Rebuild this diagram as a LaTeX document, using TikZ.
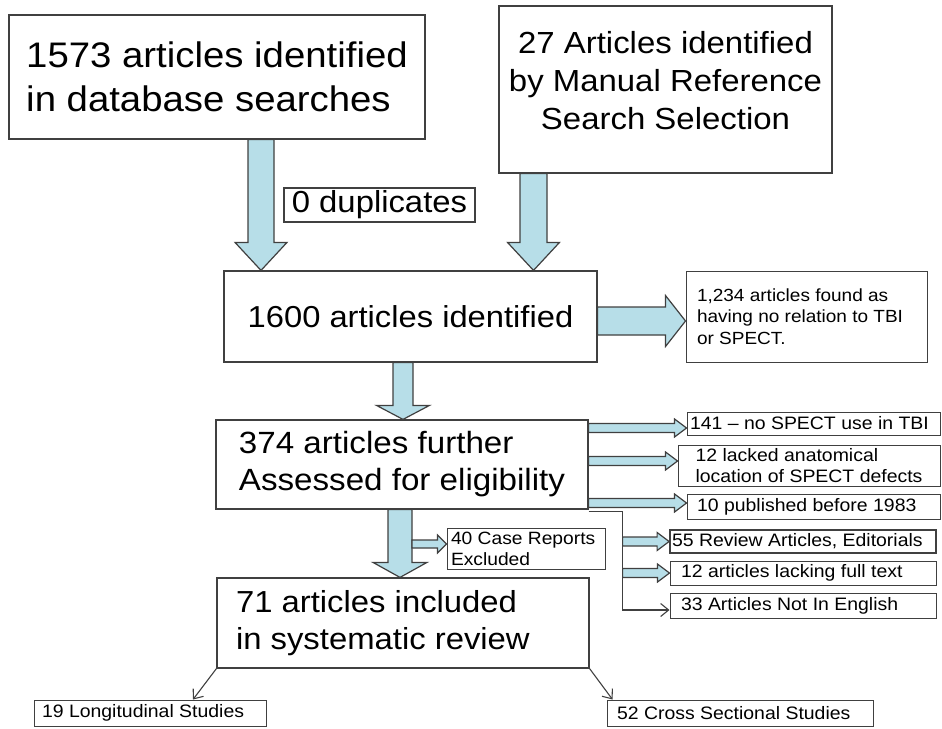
\documentclass[tikz,border=0pt]{standalone}
\usepackage{fontspec}
\setmainfont{Liberation Sans}[FakeStretch=1.08]
\usetikzlibrary{arrows.meta,calc,positioning}
\definecolor{arrowfill}{RGB}{183,222,232}
\definecolor{boxline}{RGB}{64,64,64}
\tikzset{bigbox/.style={draw=boxline,line width=1.2pt,fill=white,rectangle,align=flush left,inner sep=0pt},
    smallbox/.style={draw=boxline,line width=1pt,fill=white,rectangle,align=flush left,inner sep=0pt,font=\fontsize{18}{21}\selectfont},
    wh/.style 2 args={minimum width=#1,minimum height=#2},
    fatarrow/.style={draw=boxline,line width=1.2pt,fill=arrowfill,line join=miter},
    thinline/.style={draw=boxline,line width=1.1pt}
}
\newcommand{\fatarrow}[5]
{
% args: (start, tip, half shaft width, half head width, head length)
    \coordinate (fatbase) at ($(#2)!#5!(#1)$);
    \draw [fatarrow] ($(#1)!#3!90:(#2)$) -- ($(fatbase)!#3!90:(#2)$)
        -- ($(fatbase)!#4!90:(#2)$) -- (#2) -- ($(fatbase)!#4!-90:(#2)$)
        -- ($(fatbase)!#3!-90:(#2)$) -- ($(#1)!#3!-90:(#2)$) -- cycle;
}

\begin{document}
\begin{tikzpicture}[x=1pt,y=-1pt,>={Straight Barb[length=8pt,width=13pt]}]

\useasboundingbox (0,0) rectangle (942,728);

%% sources
\node (dbsearch) at (217,77) [bigbox,wh={416pt}{124pt},font=\fontsize{35.5}{44}\selectfont]
    {1573 articles identified\\in database searches};
\node (manual) at (665.5,89.5) [bigbox,wh={333pt}{167pt},align=center,text depth=19pt,font=\fontsize{30.5}{38}\selectfont]
    {27 Articles identified\\by Manual Reference\\Search Selection};
\node (dupl) at (379.5,205) [bigbox,wh={191pt}{34pt},font=\fontsize{30.4}{36}\selectfont] {0 duplicates};

%% screening
\node (identified) at (410.5,316.5) [bigbox,wh={373pt}{91pt},font=\fontsize{30.3}{37}\selectfont] {1600 articles identified};
\node (norel) at (806.5,316.5) [smallbox,wh={241pt}{91pt},text width=219pt,inner xsep=11pt,font=\fontsize{17.6}{21.5}\selectfont]
    {1,234 articles found as\\having no relation to TBI\\or SPECT.};

\node (assessed) at (402,464.5) [bigbox,wh={372pt}{89pt},font=\fontsize{30.7}{37}\selectfont]
    {374 articles further\\Assessed for eligibility};
\node (caserep) at (526,548.5) [smallbox,wh={158pt}{41pt},text width=150pt,inner xsep=4pt,font=\fontsize{17.8}{21}\selectfont]
    {40 Case Reports\\Excluded};
\node (included) at (403,623) [bigbox,wh={372pt}{90pt},text width=334pt,inner xsep=19pt,font=\fontsize{30.4}{37}\selectfont]
    {71 articles included\\in systematic review};

% exclusions
\node (noSPECT) at (813.5,423.5) [smallbox,wh={253pt}{23pt},text width=247pt,inner xsep=3pt] {141 – no SPECT use in TBI};
\node (noloc) at (809,465.5) [smallbox,wh={262pt}{41pt}] {12 lacked anatomical\\location of SPECT defects};
\node (before83) at (813.5,506.5) [smallbox,wh={253pt}{25pt},text width=233pt,inner xsep=10pt] {10 published before 1983};
\node (review) at (803,541.5) [smallbox,wh={266pt}{23pt},text width=262pt,inner xsep=2pt,line width=1.8pt] {55 Review Articles, Editorials};
\node (nofull) at (803,573) [smallbox,wh={266pt}{24pt},text width=244pt,inner xsep=11pt] {12 articles lacking full text};
\node (notengl) at (803,605.5) [smallbox,wh={266pt}{25pt},text width=244pt,inner xsep=11pt] {33 Articles Not In English};

%% studies
\node (longit) at (150,713) [smallbox,wh={232pt}{26pt},text width=216pt,inner xsep=8pt] {19 Longitudinal Studies};
\node (crosssec) at (740,713) [smallbox,wh={266pt}{26pt},text width=246pt,inner xsep=10pt] {52 Cross Sectional Studies};

%% fat arrows
\coordinate (ac1) at ($(dbsearch.south)+(44,0)$);
\coordinate (ac2) at (ac1 |- identified.north);
\fatarrow{ac1}{ac2}{13pt}{26pt}{28pt}

\coordinate (mc1) at ($(manual.south)+(-132,0)$);
\coordinate (mc2) at (mc1 |- identified.north);
\fatarrow{mc1}{mc2}{13.5pt}{26pt}{28pt}

\coordinate (in1) at ($(identified.east)+(0,4.5)$);
\coordinate (in2) at (in1 -| norel.west);
\fatarrow{in1}{in2}{14pt}{25.5pt}{20pt}

\coordinate (ia1) at ($(identified.south)+(-7.5,0)$);
\coordinate (ia2) at (ia1 |- assessed.north);
\fatarrow{ia1}{ia2}{10pt}{26.5pt}{14pt}

\coordinate (ai1) at ($(assessed.south)+(-2,0)$);
\coordinate (ai2) at (ai1 |- included.north);
\fatarrow{ai1}{ai2}{12pt}{27pt}{15pt}

\coordinate (cr1) at ($(ai1 |- caserep.west)+(12,-4.5)$);
\coordinate (cr2) at (cr1 -| caserep.west);
\fatarrow{cr1}{cr2}{4pt}{9pt}{9pt}

% to the right of the assessed box
\coordinate (ns2) at ($(noSPECT.west)+(0,4.5)$);
\coordinate (ns1) at (ns2 -| assessed.east);
\fatarrow{ns1}{ns2}{4.5pt}{9pt}{12pt}

\coordinate (nl2) at ($(noloc.west)+(0,-4.5)$);
\coordinate (nl1) at (nl2 -| assessed.east);
\fatarrow{nl1}{nl2}{4.5pt}{9pt}{12pt}

\coordinate (bf2) at ($(before83.west)+(0,-3.5)$);
\coordinate (bf1) at (bf2 -| assessed.east);
\fatarrow{bf1}{bf2}{4.5pt}{9pt}{12pt}

% branch below it
\coordinate (split) at ($(assessed.south east)+(34,2)$);
\coordinate (ne) at ($(notengl.west)+(0,4.5)$);
\draw [thinline,->] ([yshift=-2pt]assessed.south east) -- (split) |- (ne);

\coordinate (rv1) at (split |- review.west);
\fatarrow{rv1}{review.west}{4.5pt}{9pt}{12pt}
\coordinate (nf1) at (split |- nofull.west);
\fatarrow{nf1}{nofull.west}{4.5pt}{9pt}{12pt}

%% split of included studies
\coordinate (lg) at ($(longit.north)+(43,0)$);
\coordinate (cs) at ($(crosssec.north west)+(6,0)$);
\draw [thinline,->] (included.south west) -- (lg);
\draw [thinline,->] (included.south east) -- (cs);

\end{tikzpicture}
\end{document}
